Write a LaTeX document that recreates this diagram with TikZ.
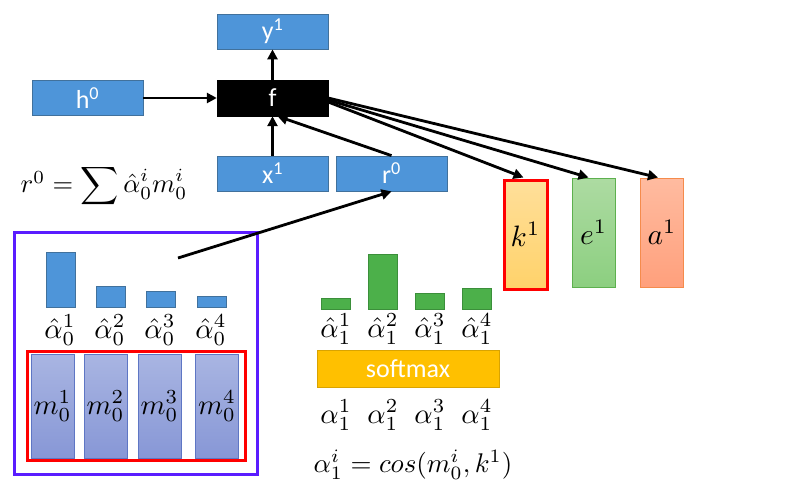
\documentclass[tikz,border=0pt]{standalone}
\usepackage{amsmath}
\usepackage{graphicx}
\usepackage{fontspec}
\setmainfont{Carlito}
\usetikzlibrary{arrows.meta,calc}
\newcommand{\bigmath}[2]{\scalebox{#1}{$#2$}}
\definecolor{boxblue}{HTML}{4E95D9}
\definecolor{boxblueline}{HTML}{41719C}
\definecolor{barblue}{HTML}{4E95D9}
\definecolor{bargreen}{HTML}{4CB04A}
\definecolor{bargreenline}{HTML}{3B8F3A}
\definecolor{mtop}{HTML}{A9B5E2}
\definecolor{mbot}{HTML}{8797D6}
\definecolor{mline}{HTML}{5E76C4}
\definecolor{ktop}{HTML}{FFDF9A}
\definecolor{kbot}{HTML}{FFD26A}
\definecolor{etop}{HTML}{ADDBA2}
\definecolor{ebot}{HTML}{8CCF80}
\definecolor{eline}{HTML}{5DB04E}
\definecolor{atop}{HTML}{FFBBA0}
\definecolor{abot}{HTML}{FFA07C}
\definecolor{aline}{HTML}{F58B4C}
\definecolor{softc}{HTML}{FFC000}
\definecolor{softline}{HTML}{D9A300}
\definecolor{purp}{HTML}{5A1CFF}
\begin{document}
\begin{tikzpicture}[x=1pt,y=-1pt,
  bluebox/.style={draw=boxblueline,line width=0.8pt,fill=boxblue,minimum width=111pt,minimum height=35pt,inner sep=0pt,text=white,font=\fontsize{26}{28}\selectfont},
  fbox/.style={fill=black,draw=black,minimum width=111pt,minimum height=36pt,inner sep=0pt,text=white,font=\fontsize{26}{28}\selectfont},
  arr/.style={line width=2.8pt,-{Triangle[length=10pt,width=10pt]}},
  bbar/.style={fill=barblue,draw=boxblueline,line width=0.4pt,inner sep=0pt,minimum width=29pt},
  gbar/.style={fill=bargreen,draw=bargreenline,line width=0.4pt,inner sep=0pt,minimum width=29pt},
  mcol/.style={top color=mtop,bottom color=mbot,draw=mline,line width=0.6pt,minimum width=43pt,minimum height=104pt,inner sep=0pt},
  lab/.style={inner sep=0pt},
  vec/.style={minimum width=43pt,minimum height=109pt,inner sep=0pt}
]
\useasboundingbox[fill=white] (0,0) rectangle (792,501);

% top network
\node[bluebox] (y1) at (272.5,31.5) {y\textsuperscript{1}};
\node[bluebox] (h0) at (87.5,98) {h\textsuperscript{0}};
\node[fbox] (f) at (272.5,98) {f};
\node[bluebox] (x1) at (272.5,173.5) {x\textsuperscript{1}};
\node[bluebox] (r0) at (391.5,173.5) {r\textsuperscript{0}};

\node[inner sep=0pt] (rform) at (104,186) {\bigmath{2.65}{r^0=\displaystyle\sum\hat{\alpha}_0^i m_0^i}};

% vectors k e a
\node[vec,top color=ktop,bottom color=kbot,draw=red,line width=3pt] (k1) at (525.5,234.5) {\bigmath{2.95}{k^1}};
\node[vec,top color=etop,bottom color=ebot,draw=eline,line width=1pt] (e1) at (593.5,232.5) {\bigmath{2.95}{e^1}};
\node[vec,top color=atop,bottom color=abot,draw=aline,line width=1pt] (a1) at (662,232.5) {\bigmath{2.95}{a^1}};

% arrows
\draw[arr] (h0) -- (f);
\draw[arr] (f) -- (y1);
\draw[arr] (x1) -- (f);
\draw[arr] (r0.north) -- ($(f.south)+(5,0)$);
\draw[arr] ($(f.east)+(0,4)$) -- ($(k1.north)+(-2,-1)$);
\draw[arr] ($(f.east)+(0,2)$) -- ($(e1.north)+(-5,0)$);
\draw[arr] ($(f.east)+(0,0)$) -- ($(a1.north)+(-4,0)$);

% left memory box
\node[draw=purp,line width=3pt,minimum width=243pt,minimum height=242pt,inner sep=0pt] (mem) at (135.5,353) {};
\node[bbar,minimum height=55pt] (b1) at (60.5,279.5) {};
\node[bbar,minimum height=21pt] (b2) at (110.5,296.5) {};
\node[bbar,minimum height=16pt] (b3) at (160.5,299) {};
\node[bbar,minimum height=11pt] (b4) at (211.5,301.5) {};
\node[lab] (ah1) at (60,330) {\bigmath{2.85}{\hat{\alpha}_0^1}};
\node[lab] (ah2) at (110,330) {\bigmath{2.85}{\hat{\alpha}_0^2}};
\node[lab] (ah3) at (160,330) {\bigmath{2.85}{\hat{\alpha}_0^3}};
\node[lab] (ah4) at (211,330) {\bigmath{2.85}{\hat{\alpha}_0^4}};
\node[mcol] (m1) at (52.5,406) {\bigmath{2.85}{m_0^1}};
\node[mcol] (m2) at (105.5,406) {\bigmath{2.85}{m_0^2}};
\node[mcol] (m3) at (159.5,406) {\bigmath{2.85}{m_0^3}};
\node[mcol] (m4) at (217,406) {\bigmath{2.85}{m_0^4}};
\node[draw=red,line width=3pt,minimum width=218pt,minimum height=109pt,inner sep=0pt] (mred) at (136,405.5) {};

\coordinate (rstart) at (178,258);
\draw[arr] (rstart) -- (r0.south);

% attention at step 1
\node[gbar,minimum height=11pt] (g1) at (335.5,303.5) {};
\node[gbar,minimum height=55pt] (g2) at (382.5,281.5) {};
\node[gbar,minimum height=16pt] (g3) at (429.5,301) {};
\node[gbar,minimum height=21pt] (g4) at (476.5,298.5) {};
\node[lab] (gh1) at (336,329) {\bigmath{2.85}{\hat{\alpha}_1^1}};
\node[lab] (gh2) at (383,329) {\bigmath{2.85}{\hat{\alpha}_1^2}};
\node[lab] (gh3) at (430,329) {\bigmath{2.85}{\hat{\alpha}_1^3}};
\node[lab] (gh4) at (477,329) {\bigmath{2.85}{\hat{\alpha}_1^4}};
\node[fill=softc,draw=softline,line width=0.6pt,minimum width=182pt,minimum height=37pt,inner sep=0pt,text=white,font=\fontsize{26}{28}\selectfont] (soft) at (408,368.5) {softmax};
\node[lab] (a11) at (336,415) {\bigmath{2.85}{\alpha_1^1}};
\node[lab] (a12) at (383,415) {\bigmath{2.85}{\alpha_1^2}};
\node[lab] (a13) at (430,415) {\bigmath{2.85}{\alpha_1^3}};
\node[lab] (a14) at (477,415) {\bigmath{2.85}{\alpha_1^4}};
\node[inner sep=0pt] (cosf) at (413,465) {\bigmath{2.7}{\alpha_1^i=cos(m_0^i,k^1)}};
\end{tikzpicture}
\end{document}
